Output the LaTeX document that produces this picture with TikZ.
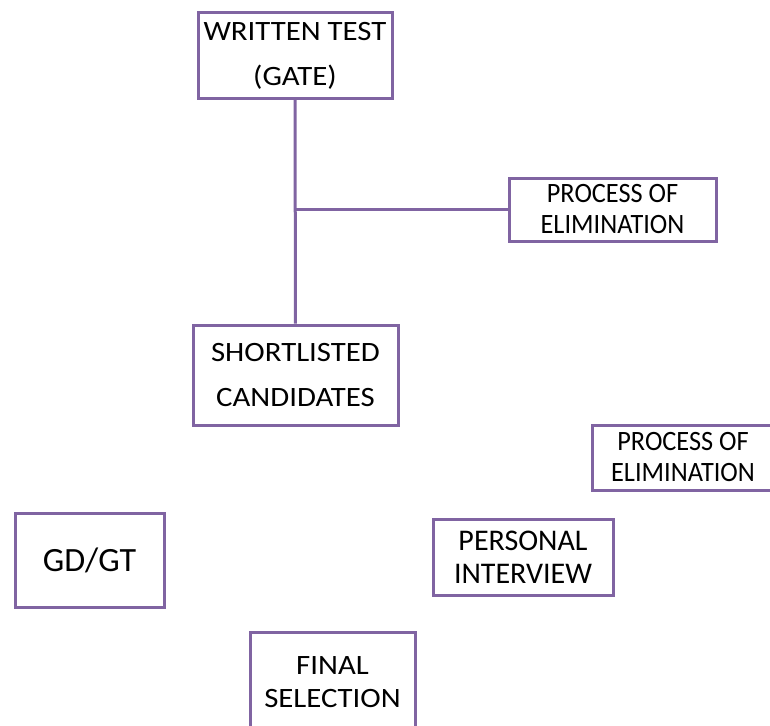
\documentclass[tikz,border=0pt]{standalone}
\usepackage{fontspec}
\setmainfont{Carlito}
\newfontfamily\widefont[FakeStretch=1.1]{Carlito}
\newfontfamily\narrowfont[FakeStretch=0.94]{Carlito}
\usetikzlibrary{positioning}
\definecolor{boxpurple}{HTML}{8064A2}
\tikzstyle{block} = [rectangle, draw=boxpurple, line width=3pt, fill=white, align=center, inner sep=0pt]
\tikzstyle{bigblock} = [block, font=\widefont\fontsize{28}{45}\selectfont]
\tikzstyle{tightblock} = [block, font=\widefont\fontsize{28}{33}\selectfont]
\tikzstyle{smallblock} = [block, font=\narrowfont\fontsize{28}{31}\selectfont]
\tikzstyle{arrow} = [line width=3pt, draw=boxpurple, -]

\begin{document}
\begin{tikzpicture}[x=1pt, y=-1pt]
		
		\clip (0,0) rectangle (770,725);
		
		\node (gate) [bigblock, minimum width=194pt, minimum height=85pt] at (295,55.5) {WRITTEN TEST\\(GATE)};
		\node (elimone) [smallblock, minimum width=207pt, minimum height=63pt] at (612.5,209.5) {PROCESS OF\\ELIMINATION};
		\node (shortlist) [bigblock, minimum width=205pt, minimum height=100pt] at (295.5,375) {SHORTLISTED\\CANDIDATES};
		\node (elimtwo) [smallblock, minimum width=182pt, minimum height=65pt] at (683,457.5) {PROCESS OF\\ELIMINATION};
		\node (gdgt) [block, font=\fontsize{34}{40}\selectfont, minimum width=149pt, minimum height=94pt] at (89.5,560) {GD/GT};
		\node (interview) [block, font=\fontsize{30}{33}\selectfont, minimum width=180pt, minimum height=76pt] at (523,557) {PERSONAL\\INTERVIEW};
		\node (final) [tightblock, minimum width=165pt, minimum height=100pt] at (332.5,682) {FINAL\\SELECTION};
		
		\coordinate (branch) at (gate.south |- elimone.west);
		\draw [arrow] (gate) -- (shortlist);
		\draw [arrow] (branch) -- (elimone);
		
	\end{tikzpicture}
\end{document}
